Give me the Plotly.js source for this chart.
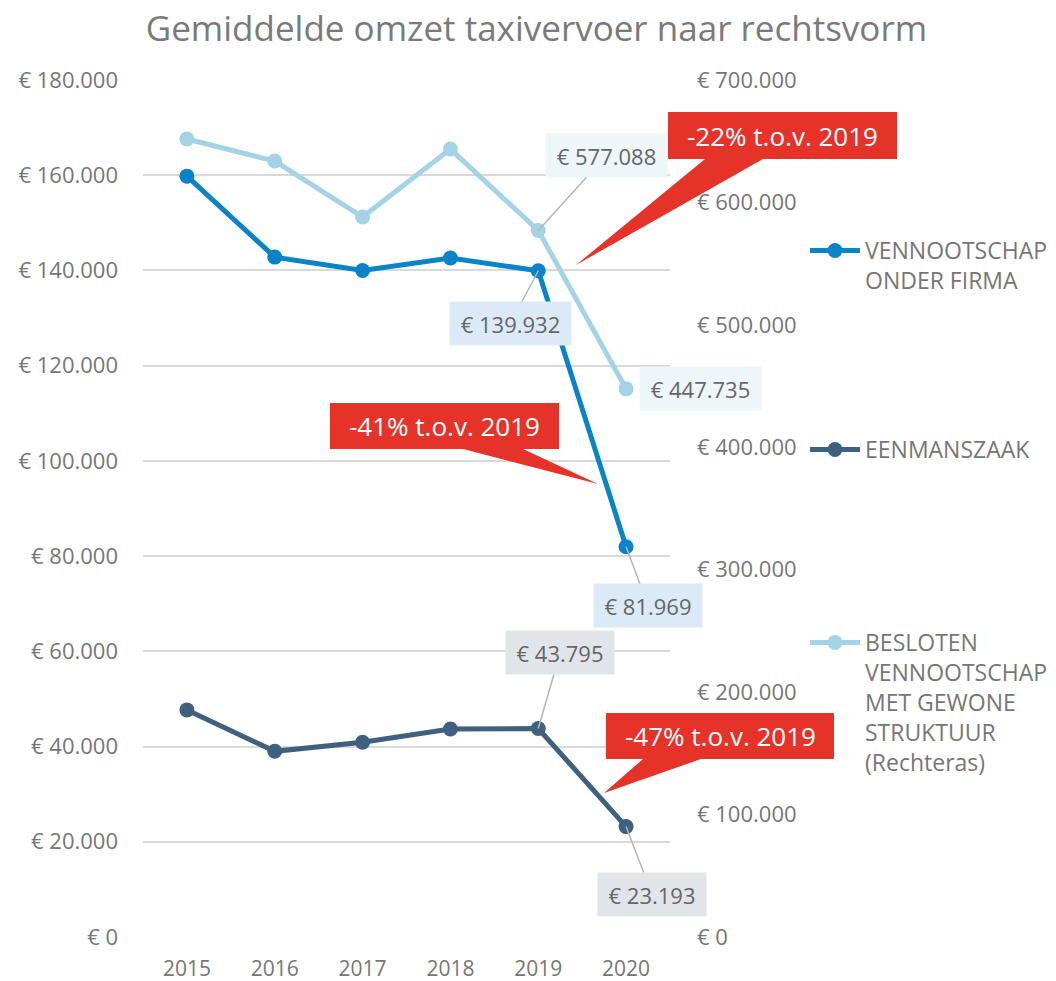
<!DOCTYPE html>
<html>
<head>
<meta charset="utf-8">
<script src="https://cdn.plot.ly/plotly-3.0.1.min.js"></script>
<style>html,body{margin:0;padding:0;background:#fff;}#chart{width:1056px;height:981px;}</style>
</head>
<body>
<div id="chart"></div>
<script>
// ---- data ----
const years = ['2015', '2016', '2017', '2018', '2019', '2020'];
const vof = [159800, 142800, 140000, 142600, 139932, 81969];
const eenmanszaak = [47700, 39000, 40900, 43700, 43795, 23193];
const bv = [651800, 633800, 588100, 643600, 577088, 447735];
const seriesNames = ['VENNOOTSCHAP<br>ONDER FIRMA', 'EENMANSZAAK', 'BESLOTEN<br>VENNOOTSCHAP<br>MET GEWONE<br>STRUKTUUR<br>(Rechteras)'];
const callouts = ['-22% t.o.v. 2019', '-41% t.o.v. 2019', '-47% t.o.v. 2019'];
const titleText = 'Gemiddelde omzet taxivervoer naar rechtsvorm';

// ---- layout helpers ----
const W = 1056, H = 981;
const M = {l: 143, r: 386, t: 80, b: 44, autoexpand: false};
const PW = W - M.l - M.r, PH = H - M.t - M.b;
const px = x => (x - M.l) / PW;
const py = y => (H - M.b - y) / PH;
const euro = v => '€ ' + Math.round(v).toString().replace(/\B(?=(\d{3})+(?!\d))/g, '.');

const FONT = 'Open Sans, Noto Sans, sans-serif';
const GREY = '#767676';
const cVof = '#0a84c8', cEen = '#406080', cBv = '#a3d3e4';

const traces = [
  {x: years, y: vof, name: seriesNames[0], type: 'scatter', mode: 'lines+markers',
   line: {color: cVof, width: 5}, marker: {color: cVof, size: 15}, yaxis: 'y'},
  {x: years, y: eenmanszaak, name: seriesNames[1], type: 'scatter', mode: 'lines+markers',
   line: {color: cEen, width: 5}, marker: {color: cEen, size: 15}, legend: 'legend2', yaxis: 'y'},
  {x: years, y: bv, name: seriesNames[2], type: 'scatter', mode: 'lines+markers',
   line: {color: cBv, width: 5}, marker: {color: cBv, size: 15}, legend: 'legend3', yaxis: 'y2'}
];

function label(i, arr, yref, bg, ax, ay, arrow, w) {
  const a = {
    xref: 'x', yref: yref, x: i, y: arr[i], text: euro(arr[i]),
    showarrow: arrow,
    bgcolor: bg, width: w, height: 41,
    font: {family: FONT, size: 22, color: '#666666'}
  };
  if (arrow) {
    Object.assign(a, {arrowhead: 0, arrowwidth: 1.5, arrowcolor: '#b5b5b5', ax: ax, ay: ay});
  } else {
    Object.assign(a, {xanchor: 'center', xshift: ax});
  }
  return a;
}

const annotations = [
  label(4, bv, 'y2', '#eef6f9', 68, -75, true, 119),
  label(5, bv, 'y2', '#eef6f9', 74, 0, false, 119),
  label(4, vof, 'y', '#dbeaf6', -28, 53, true, 119),
  label(5, vof, 'y', '#dbeaf6', 22, 59, true, 106),
  label(4, eenmanszaak, 'y', '#e1e5e9', 22, -76, true, 106),
  label(5, eenmanszaak, 'y', '#e1e5e9', 26, 68, true, 106)
];

// callout boxes (pixel geometry of the decoration)
const boxes = [
  {x0: 668, x1: 897, y0: 112, y1: 159, b0: 705, b1: 763, tx: 576, ty: 265},
  {x0: 330, x1: 559, y0: 403, y1: 449, b0: 463, b1: 523, tx: 598, ty: 484},
  {x0: 606, x1: 834, y0: 713, y1: 759, b0: 643, b1: 701, tx: 604, ty: 793}
];
const shapes = boxes.map(b => {
  const pts = [[b.x0, b.y0], [b.x1, b.y0], [b.x1, b.y1], [b.b1, b.y1], [b.tx, b.ty], [b.b0, b.y1], [b.x0, b.y1]];
  return {type: 'path', xref: 'paper', yref: 'paper', layer: 'above',
    path: 'M' + pts.map(p => px(p[0]).toFixed(5) + ',' + py(p[1]).toFixed(5)).join(' L') + ' Z',
    fillcolor: '#e5332a', line: {width: 0}};
});
boxes.forEach((b, i) => {
  annotations.push({xref: 'paper', yref: 'paper', x: px((b.x0 + b.x1) / 2), y: py((b.y0 + b.y1) / 2),
    xanchor: 'center', yanchor: 'middle', showarrow: false, text: callouts[i],
    font: {family: FONT, size: 26, color: '#ffffff'}});
});

const legendBase = {xanchor: 'left', yanchor: 'top', bgcolor: 'rgba(0,0,0,0)', valign: 'top',
  itemwidth: 50, font: {family: FONT, size: 23, color: GREY}};

const layout = {
  width: W, height: H, margin: M,
  paper_bgcolor: '#ffffff', plot_bgcolor: '#ffffff',
  separators: ',.',
  showlegend: true,
  font: {family: FONT, color: GREY},
  title: {text: titleText, x: 0.508, xanchor: 'center', y: 0.971, yanchor: 'middle',
    font: {family: FONT, size: 35, color: '#7a7a7a'}},
  hovermode: false,
  xaxis: {type: 'category', range: [-0.5, 5.5], showgrid: false, zeroline: false, showline: false,
    ticks: '', ticklabelstandoff: 17, tickfont: {family: FONT, size: 21, color: GREY}},
  yaxis: {range: [0, 180000], dtick: 20000, tickprefix: '€ ', tickformat: ',d', showgrid: true,
    gridcolor: '#d9d9d9', gridwidth: 2, zeroline: false, showline: false, ticks: '',
    ticklabelstandoff: 24, tickfont: {family: FONT, size: 22, color: GREY}},
  yaxis2: {range: [0, 700000], dtick: 100000, tickprefix: '€ ', tickformat: ',d', overlaying: 'y',
    side: 'right', showgrid: false, zeroline: false, showline: false, ticks: '',
    ticklabelstandoff: 26, tickfont: {family: FONT, size: 22, color: GREY}},
  legend: Object.assign({}, legendBase, {x: px(805), y: py(229)}),
  legend2: Object.assign({}, legendBase, {x: px(805), y: py(428)}),
  legend3: Object.assign({}, legendBase, {x: px(805), y: py(621)}),
  annotations: annotations,
  shapes: shapes
};

Plotly.newPlot('chart', traces, layout, {displayModeBar: false, staticPlot: true});
</script>
</body>
</html>
